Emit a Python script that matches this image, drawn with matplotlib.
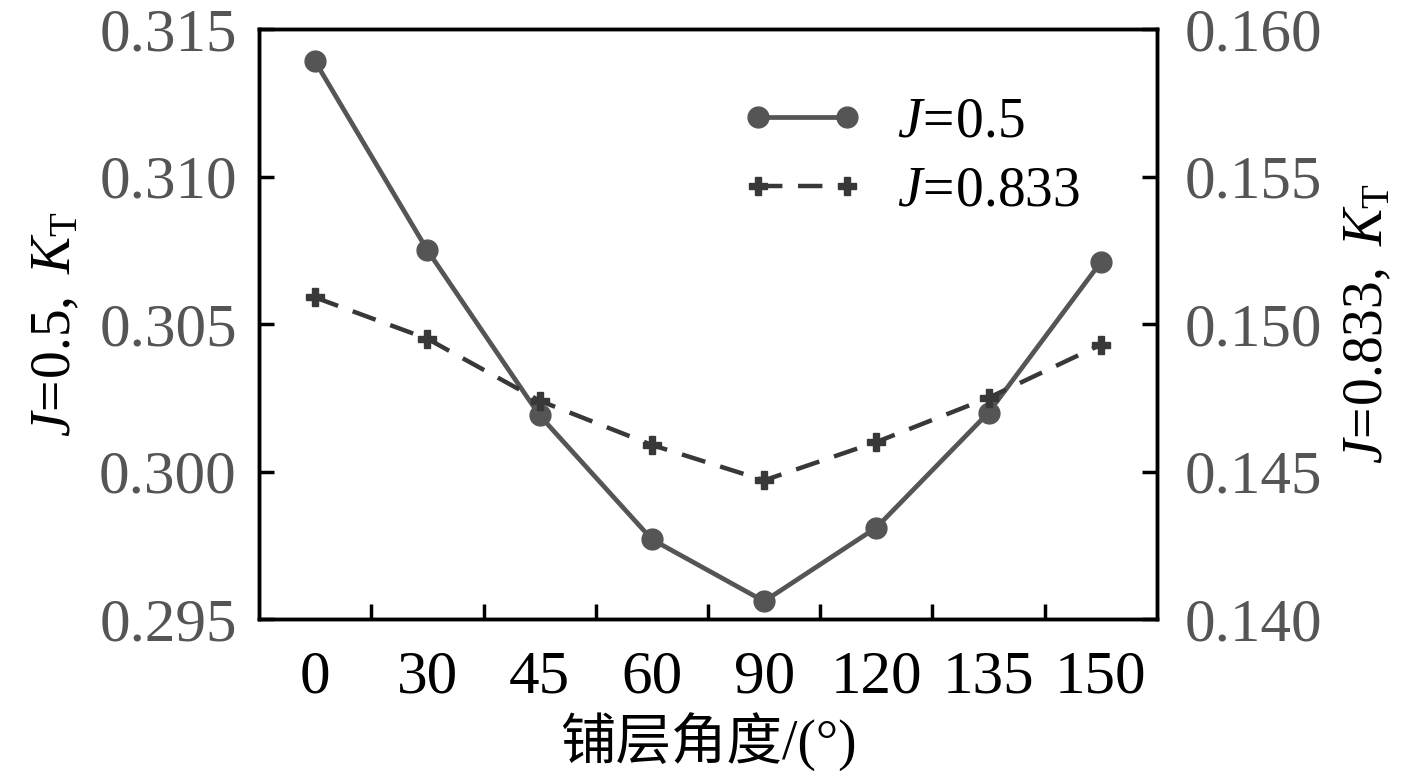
import numpy as np
import matplotlib.pyplot as plt
from matplotlib.ticker import FixedLocator

plt.rcParams['font.family'] = ['Liberation Serif', 'Noto Sans CJK SC']
plt.rcParams['mathtext.fontset'] = 'custom'
plt.rcParams['mathtext.rm'] = 'Liberation Serif'
plt.rcParams['mathtext.it'] = 'Liberation Serif:italic'

angles = ['0', '30', '45', '60', '90', '120', '135', '150']
kt_j05 = [0.3139, 0.3075, 0.3019, 0.2977, 0.2956, 0.2981, 0.3020, 0.3071]
kt_j0833 = [0.1509, 0.1495, 0.1474, 0.1459, 0.1447, 0.1460, 0.1475, 0.1493]

x = np.arange(len(angles))

fig = plt.figure(figsize=(14.17, 7.76), dpi=100)
ax = fig.add_axes([0.1828, 0.2023, 0.8165 - 0.1828, 0.9626 - 0.2023])
ax2 = ax.twinx()

l1, = ax.plot(x, kt_j05, color='#555555', lw=3.4, marker='o', ms=15,
              label=r'$\mathit{J}\!{=}\!\mathrm{0.5}$')
l2, = ax2.plot(x, kt_j0833, color='#383838', lw=3.2, ls=(0, (5.5, 3.5)),
               marker='P', ms=13, label=r'$\mathit{J}\!{=}\!\mathrm{0.833}$')

ax.set_xlim(-0.5, 7.5)
ax.set_ylim(0.295, 0.315)
ax2.set_ylim(0.140, 0.160)
ax.set_yticks([0.295, 0.300, 0.305, 0.310, 0.315])
ax2.set_yticks([0.140, 0.145, 0.150, 0.155, 0.160])
ax.set_yticklabels(['0.295', '0.300', '0.305', '0.310', '0.315'])
ax2.set_yticklabels(['0.140', '0.145', '0.150', '0.155', '0.160'])

ax.set_xticks(x)
ax.set_xticklabels(angles)
ax.xaxis.set_minor_locator(FixedLocator(x[:-1] + 0.5))
ax.tick_params(axis='x', which='major', length=0, pad=22, labelsize=44,
               labelcolor='black')
ax.tick_params(axis='x', which='minor', direction='in', length=11, width=2.5)
ax.tick_params(axis='y', direction='in', length=11, width=2.5, pad=16,
               labelsize=44, labelcolor='#555555')
ax2.tick_params(axis='y', direction='in', length=11, width=2.5, pad=20,
                labelsize=44, labelcolor='#555555')

for a in (ax, ax2):
    for s in a.spines.values():
        s.set_linewidth(2.5)

ax.set_ylabel(r'$\mathit{J}\!{=}\!\mathrm{0.5,}\ \mathit{K}_\mathrm{T}$',
              fontsize=40, labelpad=12)
ax2.set_ylabel(r'$\mathit{J}\!{=}\!\mathrm{0.833,}\ \mathit{K}_\mathrm{T}$',
               fontsize=40, rotation=90, labelpad=14)
ax.set_xlabel('铺层角度/(°)', fontsize=40, labelpad=6)

ax.legend(handles=[l1, l2], loc='upper right', bbox_to_anchor=(0.97, 0.97),
          frameon=False, fontsize=40, handlelength=2.2, handletextpad=0.6,
          labelspacing=0.3, numpoints=2)

fig.savefig('out.png', dpi=100)
